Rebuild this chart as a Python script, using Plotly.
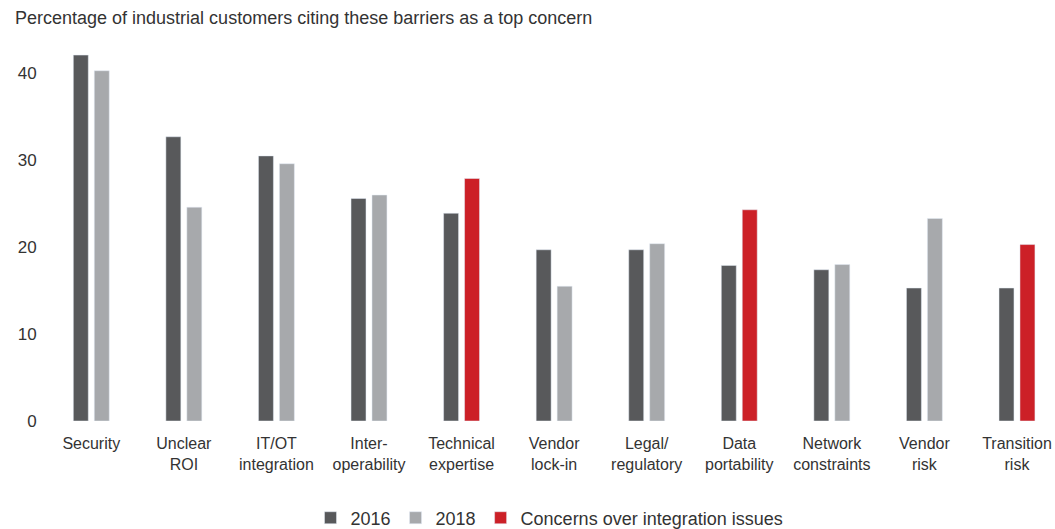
import plotly.graph_objects as go

categories = ["Security", "Unclear<br>ROI", "IT/OT<br>integration", "Inter-<br>operability",
              "Technical<br>expertise", "Vendor<br>lock-in", "Legal/<br>regulatory",
              "Data<br>portability", "Network<br>constraints", "Vendor<br>risk", "Transition<br>risk"]
values_2016 = [42.1, 32.7, 30.5, 25.6, 23.9, 19.7, 19.7, 17.9, 17.4, 15.3, 15.3]
values_2018 = [40.3, 24.6, 29.6, 26.0, None, 15.5, 20.4, None, 18.0, 23.3, None]
values_integration = [None, None, None, None, 27.9, None, None, 24.3, None, None, 20.3]
y_ticks = [0, 10, 20, 30, 40]

DARK = "#58595B"
LIGHT = "#A7A9AC"
RED = "#CC2027"
TEXT = "#333333"

fig = go.Figure()
fig.add_trace(go.Bar(x=categories, y=values_2016, name="2016", marker_color=DARK,
                     offsetgroup="a"))
fig.add_trace(go.Bar(x=categories, y=values_2018, name="2018", marker_color=LIGHT,
                     offsetgroup="b"))
fig.add_trace(go.Bar(x=categories, y=values_integration, name="Concerns over integration issues",
                     marker_color=RED, offsetgroup="b"))

fig.update_layout(
    width=1055, height=529,
    margin=dict(l=45, r=1, t=39, b=108, autoexpand=False),
    paper_bgcolor="white", plot_bgcolor="white",
    barmode="group", bargap=0.547, bargroupgap=0.286,
    font=dict(family="Liberation Sans, Arial, sans-serif", color=TEXT, size=16),
    title=dict(text="Percentage of industrial customers citing these barriers as a top concern",
               x=15/1055, xanchor="left", xref="container",
               y=1-18/529, yanchor="middle", yref="container",
               font=dict(size=18, color=TEXT)),
    xaxis=dict(range=[-0.5, 10.4], showgrid=False, showline=False, zeroline=False,
               ticks="outside", ticklen=8, tickcolor="rgba(0,0,0,0)",
               tickfont=dict(size=16, color=TEXT), tickangle=0, automargin=False),
    yaxis=dict(range=[0, 43.95], tickvals=y_ticks, showgrid=False, showline=False,
               zeroline=False, ticks="outside", ticklen=4, tickcolor="rgba(0,0,0,0)",
               tickfont=dict(size=17, color=TEXT), automargin=False),
    legend=dict(orientation="h", x=0.5, xanchor="center", y=-0.254, yanchor="middle",
                font=dict(size=18, color=TEXT), traceorder="normal"),
    showlegend=True,
)

fig.write_html("out.html")
